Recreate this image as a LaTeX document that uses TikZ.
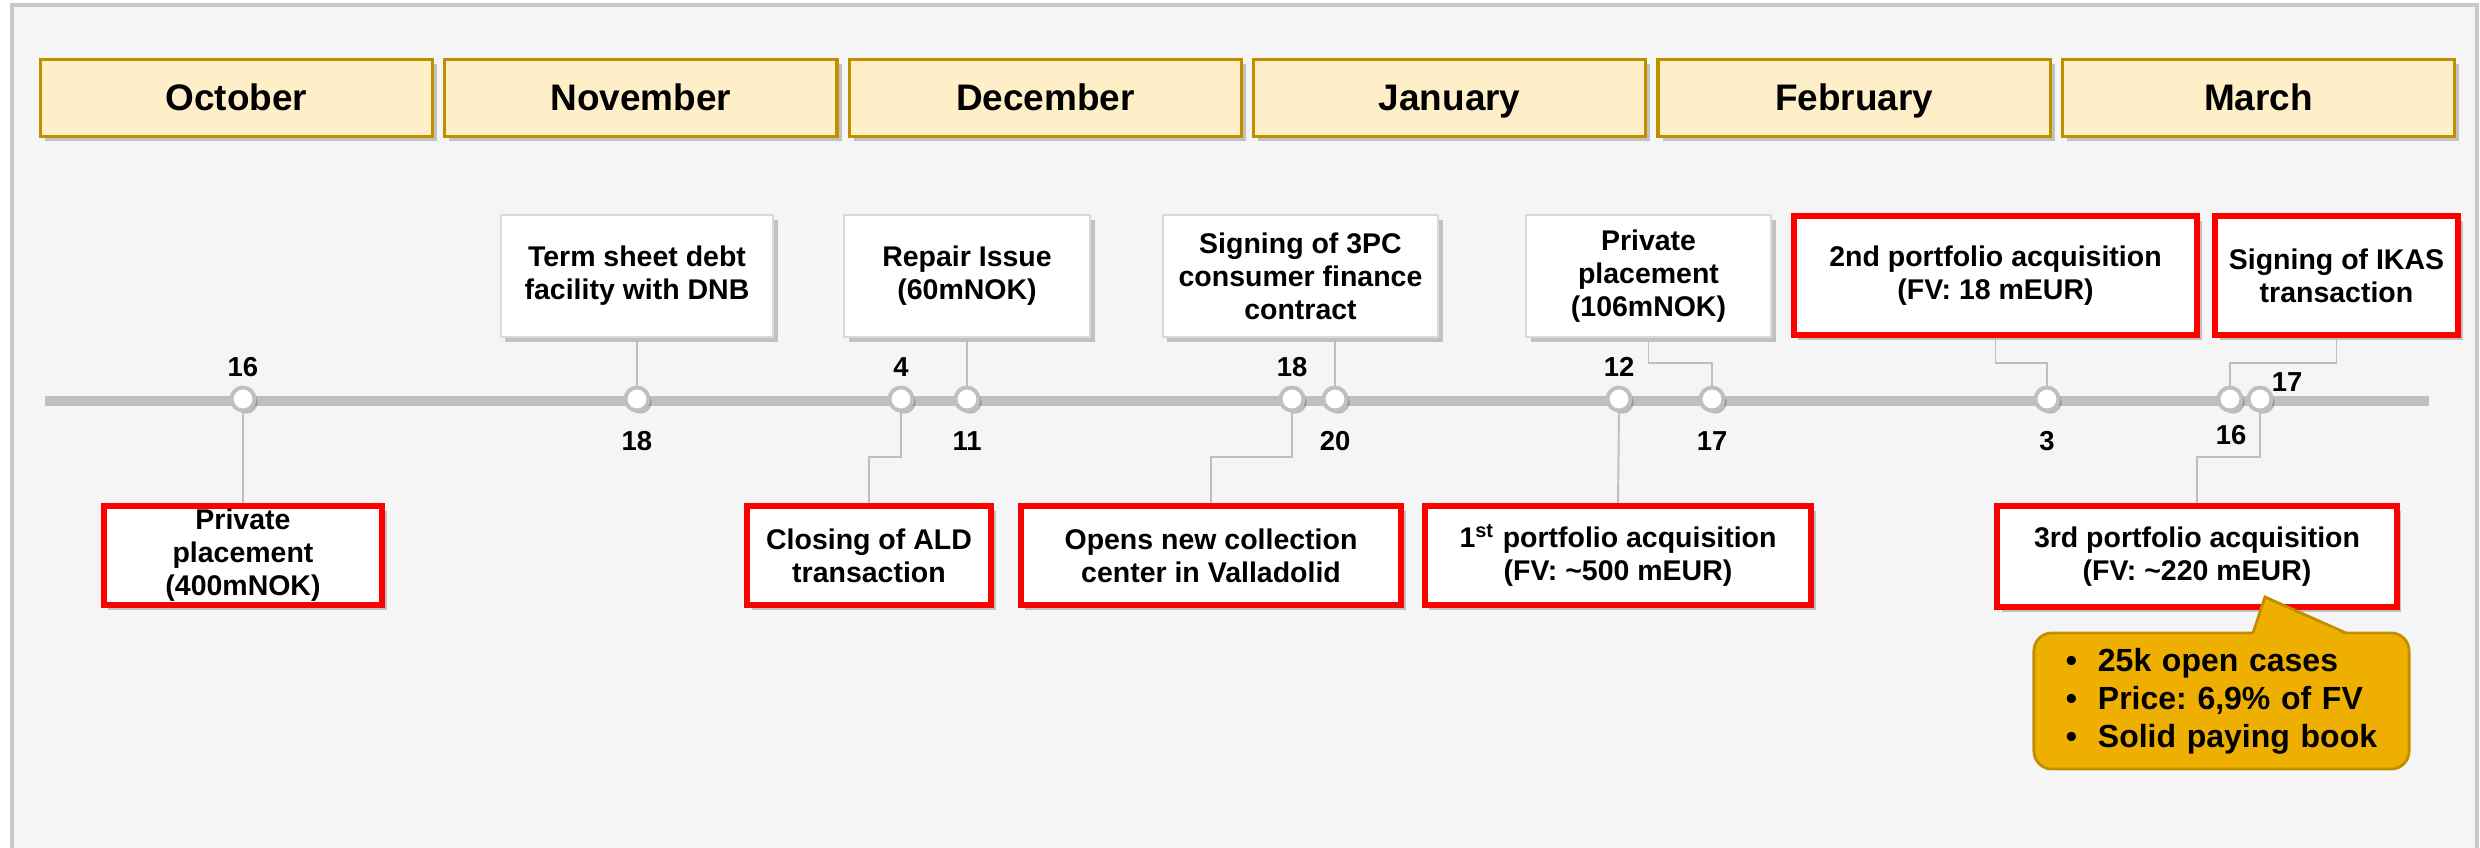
\documentclass[tikz,border=0pt]{standalone}
\usepackage{fontspec}
\setmainfont{Liberation Sans}
\usetikzlibrary{shadows, calc}

\definecolor{bggray}{HTML}{F5F5F5}
\definecolor{framegray}{HTML}{C8C8C8}
\definecolor{monthfill}{HTML}{FFEFC9}
\definecolor{monthline}{HTML}{BF8F00}
\definecolor{axisgray}{HTML}{BFBFBF}
\definecolor{boxline}{HTML}{D9D9D9}
\definecolor{keyred}{HTML}{FF0000}
\definecolor{notefill}{HTML}{EFAF00}
\definecolor{noteline}{HTML}{BF8F00}

\begin{document}
\frenchspacing
\begin{tikzpicture}[x=0.01cm, y=-0.01cm,
    month/.style={rectangle, draw=monthline, fill=monthfill, line width=0.9pt, minimum width=3.92cm, minimum height=0.77cm, text height=0.75em, text depth=0.05em, font=\fontsize{10.5}{12}\selectfont\bfseries, drop shadow={shadow xshift=1.3pt, shadow yshift=-1.3pt, opacity=0.3, fill=black!70}},
    eventbox/.style={rectangle, fill=white, draw=boxline, line width=0.6pt, align=center, inner sep=0pt, font=\fontsize{8.1}{9.4}\selectfont\bfseries, drop shadow={shadow xshift=1.3pt, shadow yshift=-1.3pt, opacity=0.3, fill=black!70}},
    keybox/.style={eventbox, draw=keyred, line width=1.7pt},
    dot/.style={circle, fill=white, draw=axisgray, line width=1.1pt, minimum size=0.23cm, inner sep=0pt, drop shadow={shadow xshift=0.9pt, shadow yshift=-0.9pt, opacity=0.35, fill=black!70}},
    day/.style={inner sep=0pt, font=\fontsize{7.8}{9}\selectfont\bfseries},
    link/.style={draw=axisgray, line width=0.55pt},
    notebox/.style={rectangle, rounded corners=0.18cm, fill=notefill, draw=noteline, line width=0.8pt, text width=3.11cm, inner xsep=0.32cm, minimum height=1.36cm, align=left, font=\fontsize{9.1}{10.8}\selectfont\bfseries}]

    \useasboundingbox (0,0) rectangle (2480,848);
    \draw[draw=framegray, fill=bggray, line width=0.9pt] (12,5) rectangle (2477,855);

    % Months
    \foreach \m [count=\i] in {October, November, December, January, February, March} {
        \node[month] (M-\i) at ({236.5+(\i-1)*404.4}, 98) {\m};
    }

    % Time axis with the dates
    \coordinate (tl-start) at (45,401);
    \coordinate (tl-end) at (2429,401);
    \draw[axisgray, line width=3.1pt] (tl-start) -- (tl-end);

    \foreach \x [count=\i] in {243,637,901,967,1292,1335,1619,1712,2047,2230,2260} {
        \node[dot] (d\i) at (\x,399) {};
    }
    \foreach \x/\y/\t [count=\i] in {243/367/16, 637/441/18, 901/367/4, 967/441/11, 1292/367/18, 1335/441/20, 1619/367/12, 1712/441/17, 2047/441/3, 2231/435/16, 2287/382/17} {
        \node[day] (n\i) at (\x,\y) {\t};
    }

    % Events above the axis
    \node[eventbox, minimum width=2.72cm, minimum height=1.22cm] (termsheet) at (637,276) {Term sheet debt\\facility with DNB};
    \node[eventbox, minimum width=2.46cm, minimum height=1.22cm] (repair) at (967,276) {Repair Issue\\(60mNOK)};
    \node[eventbox, minimum width=2.75cm, minimum height=1.22cm] (sign3pc) at (1300.5,276) {Signing of 3PC\\consumer finance\\contract};
    \node[eventbox, minimum width=2.45cm, minimum height=1.22cm] (place106) at (1648.5,276) {Private\\placement\\(106mNOK)};
    \node[keybox, minimum width=4.03cm, minimum height=1.19cm] (second) at (1995.5,275.5) {2nd portfolio acquisition\\(FV: 18 mEUR)};
    \node[keybox, minimum width=2.43cm, minimum height=1.19cm] (ikas) at (2336.5,275.5) {Signing of IKAS\\transaction};

    % Events below the axis
    \node[keybox, minimum width=2.78cm, minimum height=0.99cm] (place400) at (243,555.5) {Private\\placement\\(400mNOK)};
    \node[keybox, minimum width=2.44cm, minimum height=0.99cm] (ald) at (869,555.5) {Closing of ALD\\transaction};
    \node[keybox, minimum width=3.80cm, minimum height=0.99cm] (opens) at (1211,555.5) {Opens new collection\\center in Valladolid};
    \node[keybox, minimum width=3.86cm, minimum height=0.99cm] (first) at (1618,555.5) {1\textsuperscript{st} portfolio acquisition\\(FV: \textasciitilde500 mEUR)};
    \node[keybox, minimum width=3.99cm, minimum height=1.01cm] (third) at (2197,556.5) {3rd portfolio acquisition\\(FV: \textasciitilde220 mEUR)};

    % Links to the dates
    \draw[link] (termsheet.south) -- (d2.north);
    \draw[link] (repair.south) -- (d4.north);
    \draw[link] (sign3pc.south -| d6.north) -- (d6.north);
    \draw[link] (place106.south) -- ++(0,25) -| (d8.north);
    \draw[link] (second.south) -- ++(0,25) -| (d9.north);
    \draw[link] (ikas.south) -- ++(0,25) -| (d10.north);
    \draw[link] (d1.south) -- (place400.north);
    \draw[link] (ald.north) -- ++(0,-46) -| (d3.south);
    \draw[link] (opens.north) -- ++(0,-46) -| (d5.south);
    \draw[link] (d7.south) -- (first.north);
    \draw[link] (third.north) -- ++(0,-46) -| (d11.south);

    % Callout on the 3rd acquisition
    \node[notebox] (notes) at (2221.5,701) {\makebox[0.32cm][l]{\textbullet}25k open cases\\\makebox[0.32cm][l]{\textbullet}Price: 6,9\% of FV\\\makebox[0.32cm][l]{\textbullet}Solid paying book};
    \fill[notefill] (2253,635) -- (2265,597) -- (2346,635) -- cycle;
    \draw[noteline, line width=0.8pt] (2253,633) -- (2265,597) -- (2346,633);

\end{tikzpicture}
\end{document}
